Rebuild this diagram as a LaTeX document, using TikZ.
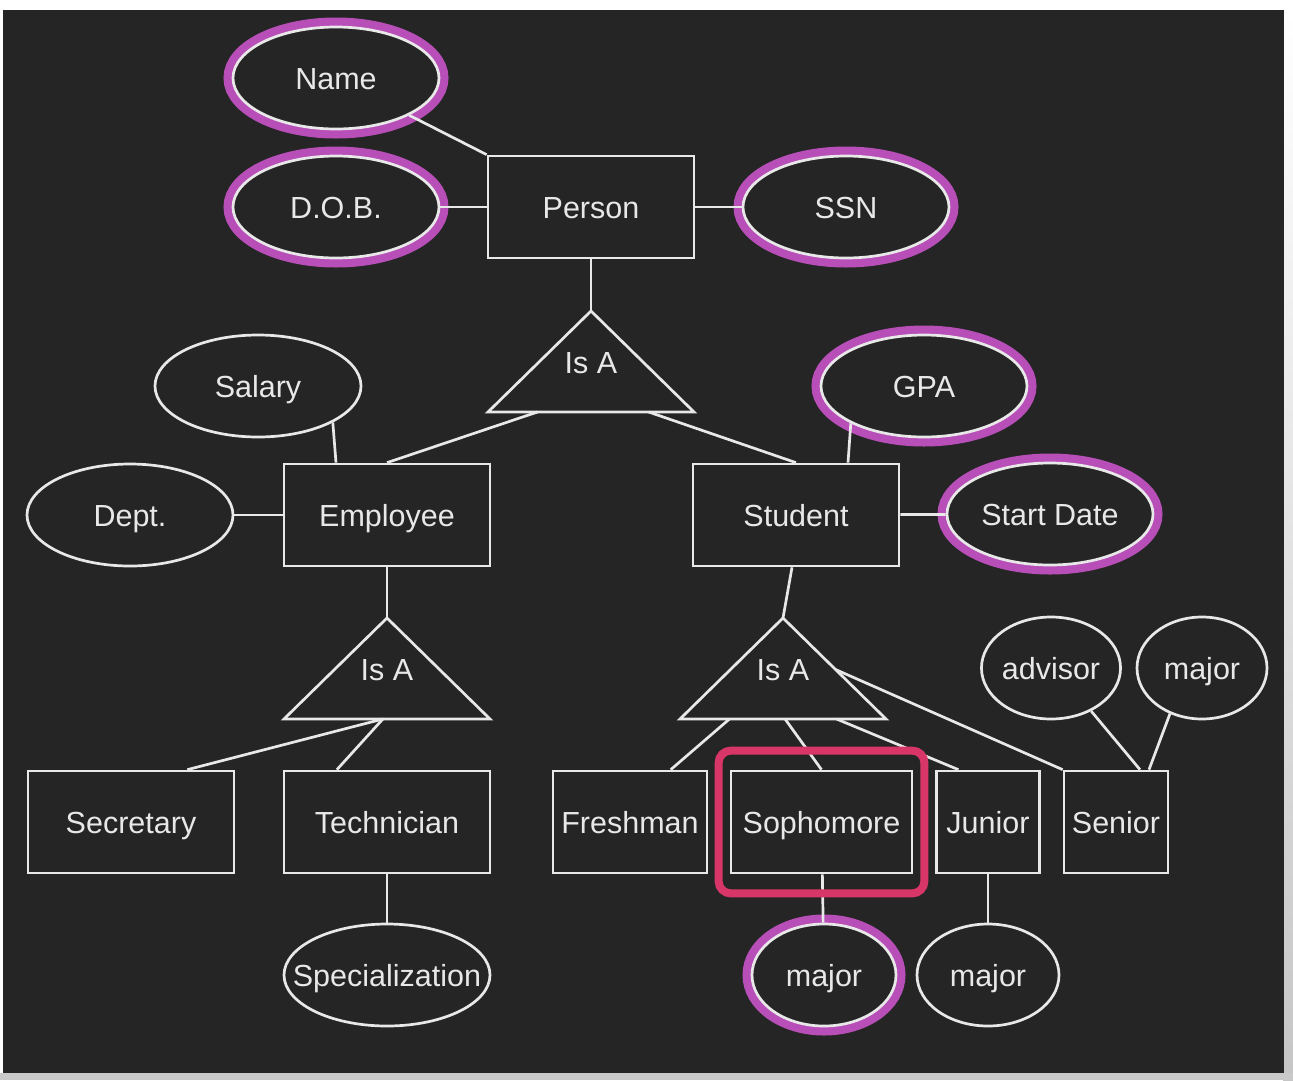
\documentclass[tikz,border=0pt]{standalone}
\usepackage{fontspec}
\setmainfont{Liberation Sans}
\usetikzlibrary{shapes.geometric,calc}
\definecolor{panel}{RGB}{37,37,37}
\definecolor{ink}{RGB}{232,232,232}
\definecolor{keyring}{RGB}{184,78,184}
\definecolor{boxred}{RGB}{216,54,104}

\begin{document}
\begin{tikzpicture}[x=1pt,y=-1pt,
        every node/.style={font=\fontsize{30.5}{36}\selectfont, text=ink, text height=25pt, text depth=3pt},
        entity/.style={draw=ink, line width=2.7pt, minimum width=206pt, minimum height=102pt, inner sep=0pt},
        attr/.style={ellipse, draw=ink, fill=panel, line width=2.7pt, minimum width=206pt, minimum height=102pt, inner sep=0pt},
        keyattr/.style={attr, preaction={draw=keyring, line width=19pt}},
        link/.style={draw=ink, line width=2.7pt}]
        % Draw the page and the dark panel
        \useasboundingbox (0,0) rectangle (1293,1080);
        \fill[white] (0,0) rectangle (1293,1080);
        \shade[top color=white, middle color=white, bottom color=gray!45] (1283,10) rectangle (1293,1080);
        \fill[gray!42] (0,1073) rectangle (1293,1080);
        \fill[panel] (3,10) rectangle (1284,1073);

        % Person and its attributes
        \node[keyattr] (name) at (336,78) {Name};
        \node[keyattr] (dob) at (336,207) {D.O.B.};
        \node[entity] (person) at (591,207) {Person};
        \node[keyattr] (ssn) at (846,207) {SSN};

        % Second level
        \node[attr] (salary) at (258,386) {Salary};
        \node[keyattr] (gpa) at (924,386) {GPA};
        \node[attr] (dept) at (130,515) {Dept.};
        \node[entity] (emp) at (387,515) {Employee};
        \node[entity] (stud) at (796,515) {Student};
        \node[keyattr] (start) at (1050,514) {Start Date};
        \node[attr, minimum width=136pt] (adv) at (1051,668) {advisor};
        \node[attr, minimum width=130pt] (senmaj) at (1202,668) {major};

        % Bottom row
        \node[entity] (sec) at (131,822) {Secretary};
        \node[entity] (tech) at (387,822) {Technician};
        \node[entity, minimum width=154pt] (fresh) at (630,822) {Freshman};
        \node[entity, minimum width=181pt] (soph) at (821.5,822) {Sophomore};
        \node[entity, minimum width=103pt] (jun) at (988,822) {Junior};
        \node[entity, minimum width=104pt] (sen) at (1116,822) {Senior};
        \node[attr] (spec) at (387,975) {\makebox[0pt]{Specialization}};
        \node[keyattr, minimum width=144pt] (sophmaj) at (824,975) {major};
        \node[attr, minimum width=142pt] (junmaj) at (988,975) {major};

        % Draw the Is A triangles
        \foreach \nm/\x/\y in {isa/591/311, isaE/387/618, isaS/783/618} {
            \draw[link] (\x,\y) coordinate (\nm) -- ++(103,101) coordinate (\nm-r) -- ++(-206,0) coordinate (\nm-l) -- cycle;
            \node at (\x,\y+51) {Is A};
        }

        % Connect everything
        \draw[link] (name) -- (person.north west);
        \draw[link] (dob) -- (person);
        \draw[link] (person) -- (ssn);
        \draw[link] (person) -- (isa);
        \draw[link] ($(isa-l)!0.24!(isa-r)$) -- (emp.north);
        \draw[link] ($(isa-l)!0.78!(isa-r)$) -- (stud.north);
        \draw[link] (salary.-26) -- ([xshift=-51pt]emp.north);
        \draw[link] (gpa.207) -- ([xshift=52pt]stud.north);
        \draw[link] (dept) -- (emp);
        \draw[link] (stud) -- (start);
        \draw[link] (emp) -- (isaE);
        \draw[link] ([xshift=-4pt]stud.south) -- (isaS);
        \draw[link] ($(isaE-l)!0.48!(isaE-r)$) -- ($(sec.north west)!0.77!(sec.north east)$);
        \draw[link] ($(isaE-l)!0.48!(isaE-r)$) -- ($(tech.north west)!0.26!(tech.north east)$);
        \draw[link] ($(isaS-l)!0.24!(isaS-r)$) -- ($(fresh.north west)!0.76!(fresh.north east)$);
        \draw[link] ($(isaS-l)!0.51!(isaS-r)$) -- (soph.north);
        \draw[link] ($(isaS-l)!0.76!(isaS-r)$) -- ($(jun.north west)!0.22!(jun.north east)$);
        \draw[link] ($(isaS)!0.51!(isaS-r)$) -- (sen.north west);
        \draw[link] (adv.-47) -- ([xshift=24pt]sen.north);
        \draw[link] (senmaj.235) -- ([xshift=33pt]sen.north);
        \draw[link] (tech) -- (spec);
        \draw[link] (soph) -- (sophmaj);
        \draw[link] (jun) -- (junmaj);

        % Highlight Sophomore
        \draw[boxred, line width=8pt, rounded corners=12pt] ([shift={(-11,-19)}]soph.north west) rectangle ([shift={(11,19)}]soph.south east);
\end{tikzpicture}
\end{document}
